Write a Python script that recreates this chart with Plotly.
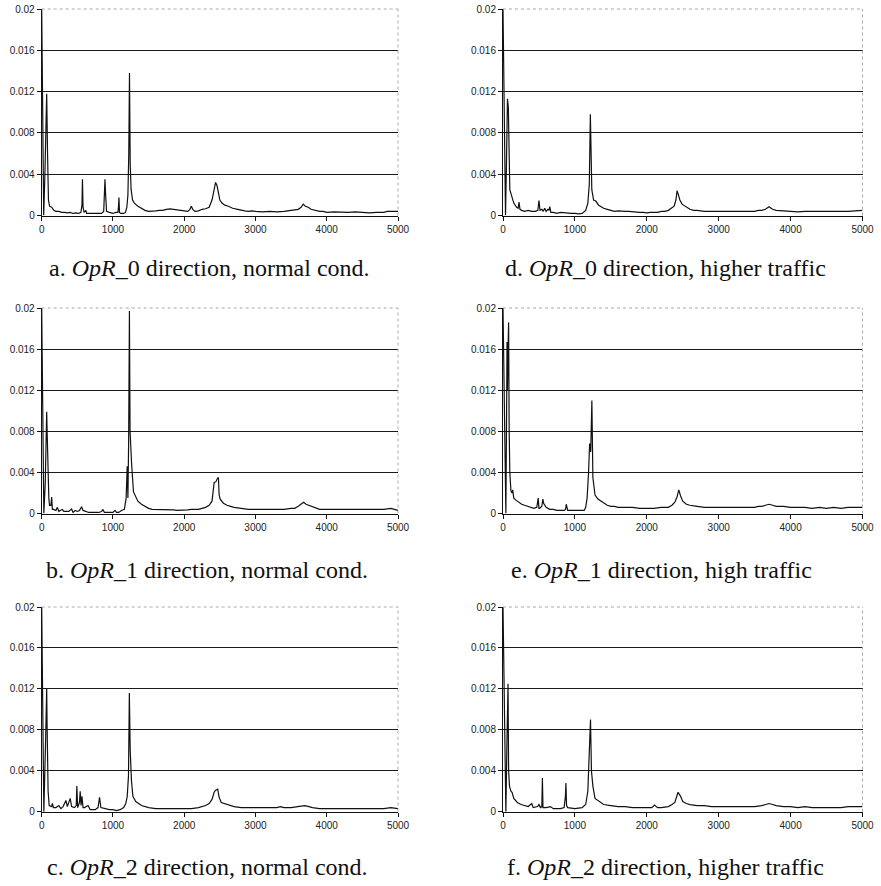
import plotly.graph_objects as go

# ---------------- data ----------------
a_x = [0, 28, 45, 58, 70, 82, 95, 110, 140, 170,
       200, 240, 280, 320, 360, 400, 440, 480, 520, 550,
       565, 572, 580, 595, 620, 630, 650, 700, 750, 800,
       840, 870, 880, 888, 897, 910, 950, 1000, 1040, 1070,
       1078, 1084, 1092, 1110, 1150, 1175, 1195, 1210, 1222, 1232,
       1242, 1255, 1275, 1300, 1350, 1400, 1450, 1500, 1550, 1600,
       1650, 1700, 1750, 1800, 1850, 1900, 1950, 2000, 2050, 2080,
       2100, 2120, 2150, 2200, 2250, 2300, 2350, 2390, 2420, 2440,
       2460, 2480, 2500, 2530, 2570, 2620, 2680, 2750, 2800, 2850,
       2900, 2950, 3000, 3100, 3200, 3300, 3400, 3450, 3500, 3550,
       3600, 3640, 3670, 3700, 3740, 3780, 3830, 3900, 3950, 4000,
       4100, 4200, 4300, 4400, 4500, 4600, 4700, 4800, 4850, 4900,
       4950, 5000]
a_y = [0.0200, 0.0, 0.0040, 0.0095, 0.0118, 0.0060, 0.0015, 0.0009, 0.0008, 0.0005,
       0.0004, 0.0004, 0.0003, 0.0003, 0.00025, 0.0003, 0.0002, 0.00025, 0.0002, 0.0003,
       0.0010, 0.0035, 0.0008, 0.0003, 0.0005, 0.0002, 0.0002, 0.00015, 0.0002, 0.00015,
       0.0002, 0.0004, 0.0025, 0.0035, 0.0020, 0.0004, 0.0003, 0.0002, 0.0003, 0.0003,
       0.0009, 0.00175, 0.0003, 0.0002, 0.0002, 0.0003, 0.0008, 0.0020, 0.0060, 0.0138,
       0.0050, 0.0025, 0.0015, 0.0012, 0.0009, 0.0007, 0.0005, 0.0004, 0.0004, 0.00045,
       0.0005, 0.0005, 0.0006, 0.00065, 0.0006, 0.00055, 0.0005, 0.0005, 0.0004, 0.0006,
       0.0009, 0.0006, 0.0004, 0.00045, 0.0006, 0.00065, 0.0008, 0.0015, 0.0026, 0.0032,
       0.0029, 0.0020, 0.0015, 0.0012, 0.0010, 0.0009, 0.0007, 0.0006, 0.0005, 0.00045,
       0.0004, 0.00045, 0.0004, 0.00035, 0.0004, 0.00035, 0.0004, 0.00045, 0.0005, 0.0005,
       0.0006, 0.0008, 0.0011, 0.0009, 0.0008, 0.0006, 0.0005, 0.0004, 0.0004, 0.0003,
       0.00035, 0.0003, 0.0003, 0.00035, 0.0003, 0.00025, 0.0003, 0.0003, 0.0004, 0.0004,
       0.00045, 0.0004]

d_x = [0, 35, 48, 62, 74, 84, 95, 116, 150, 190,
       210, 223, 236, 260, 300, 350, 400, 450, 485, 500,
       515, 540, 560, 580, 600, 625, 640, 650, 665, 700,
       750, 800, 850, 900, 950, 1000, 1050, 1100, 1150, 1180,
       1200, 1215, 1235, 1260, 1290, 1330, 1400, 1450, 1500, 1550,
       1600, 1650, 1700, 1750, 1800, 1850, 1900, 1950, 2000, 2050,
       2100, 2150, 2200, 2250, 2300, 2350, 2380, 2405, 2421, 2440,
       2460, 2490, 2550, 2600, 2650, 2700, 2800, 2900, 3000, 3100,
       3200, 3300, 3400, 3500, 3550, 3600, 3650, 3700, 3750, 3800,
       3900, 4000, 4100, 4200, 4300, 4400, 4500, 4600, 4700, 4800,
       4900, 5000]
d_y = [0.0200, 0.0, 0.0050, 0.0113, 0.0105, 0.0040, 0.0025, 0.0020, 0.0012, 0.0008,
       0.0007, 0.0013, 0.0006, 0.0005, 0.0004, 0.0005, 0.0004, 0.0004, 0.0005, 0.00145,
       0.0005, 0.0006, 0.0004, 0.0007, 0.0004, 0.0006, 0.0005, 0.00085, 0.0003, 0.0003,
       0.0002, 0.0003, 0.00025, 0.00025, 0.0002, 0.0002, 0.00015, 0.0002, 0.0005, 0.0012,
       0.0030, 0.0098, 0.0025, 0.0015, 0.0014, 0.0010, 0.0007, 0.0006, 0.0005, 0.0004,
       0.00045, 0.0004, 0.0004, 0.0004, 0.00035, 0.0003, 0.0003, 0.0003, 0.00025, 0.0003,
       0.0003, 0.0003, 0.0004, 0.0004, 0.0005, 0.0007, 0.0009, 0.0015, 0.0024, 0.0020,
       0.0015, 0.0011, 0.0008, 0.0006, 0.0005, 0.0005, 0.0004, 0.0004, 0.00045, 0.0004,
       0.0004, 0.0004, 0.00045, 0.0004, 0.0005, 0.0005, 0.0006, 0.00084, 0.0006, 0.0005,
       0.00045, 0.0004, 0.00035, 0.0004, 0.0004, 0.00035, 0.0004, 0.00035, 0.0004, 0.0004,
       0.00045, 0.0005]

b_x = [0, 30, 50, 62, 70, 78, 85, 100, 110, 130,
       140, 150, 165, 200, 220, 240, 260, 290, 310, 340,
       380, 420, 440, 470, 500, 530, 560, 580, 620, 660,
       700, 750, 800, 840, 860, 880, 920, 960, 1000, 1030,
       1050, 1080, 1120, 1160, 1185, 1200, 1210, 1220, 1231, 1240,
       1250, 1262, 1288, 1310, 1350, 1400, 1450, 1500, 1550, 1600,
       1650, 1700, 1750, 1800, 1850, 1900, 1950, 2000, 2050, 2100,
       2150, 2200, 2250, 2300, 2350, 2390, 2420, 2445, 2465, 2480,
       2490, 2505, 2550, 2600, 2650, 2700, 2800, 2900, 3000, 3100,
       3200, 3300, 3400, 3500, 3550, 3600, 3640, 3675, 3710, 3750,
       3800, 3850, 3900, 4000, 4100, 4200, 4300, 4400, 4500, 4600,
       4700, 4800, 4850, 4900, 4950, 5000]
b_y = [0.0200, 0.0, 0.0030, 0.0080, 0.0099, 0.0075, 0.0052, 0.0015, 0.0008, 0.0008,
       0.0016, 0.0004, 0.0004, 0.0003, 0.0006, 0.0002, 0.0003, 0.0004, 0.0002, 0.0002,
       0.0002, 0.00043, 0.0001, 0.0003, 0.0002, 0.0003, 0.00065, 0.0003, 0.0002, 0.0001,
       0.0001, 0.0001, 0.0001, 0.0002, 0.0004, 0.0001, 0.0001, 0.0001, 0.0001, 0.0003,
       0.0001, 0.0001, 0.0003, 0.0004, 0.0015, 0.0046, 0.0015, 0.0070, 0.0197, 0.0080,
       0.0055, 0.0048, 0.0021, 0.0018, 0.0012, 0.0009, 0.0007, 0.0005, 0.0004, 0.0004,
       0.00035, 0.0004, 0.0004, 0.0004, 0.00035, 0.0003, 0.0003, 0.0003, 0.00035, 0.0004,
       0.0004, 0.0004, 0.0005, 0.0006, 0.0008, 0.0012, 0.0030, 0.0031, 0.0034, 0.0035,
       0.0018, 0.0014, 0.0010, 0.0008, 0.0007, 0.0006, 0.0005, 0.0004, 0.0004, 0.0004,
       0.0004, 0.00035, 0.0004, 0.0005, 0.0005, 0.0007, 0.0009, 0.0011, 0.0009, 0.0008,
       0.0006, 0.0005, 0.0004, 0.0004, 0.0004, 0.00035, 0.0004, 0.0004, 0.0004, 0.00035,
       0.0004, 0.0004, 0.00045, 0.0005, 0.0004, 0.0003]

e_x = [0, 40, 50, 56, 62, 70, 78, 86, 95, 110,
       125, 135, 150, 180, 220, 260, 300, 350, 400, 430,
       470, 490, 500, 510, 540, 555, 565, 580, 600, 650,
       700, 750, 800, 850, 870, 880, 900, 950, 1000, 1050,
       1100, 1130, 1150, 1170, 1190, 1205, 1220, 1236, 1250, 1265,
       1280, 1320, 1400, 1450, 1500, 1550, 1600, 1700, 1800, 1900,
       2000, 2100, 2200, 2300, 2350, 2390, 2420, 2445, 2470, 2500,
       2550, 2600, 2700, 2800, 2900, 3000, 3100, 3200, 3300, 3400,
       3500, 3550, 3600, 3650, 3700, 3750, 3800, 3900, 4000, 4100,
       4200, 4300, 4400, 4500, 4600, 4700, 4800, 4900, 5000]
e_y = [0.0200, 0.0, 0.0100, 0.0167, 0.0120, 0.0160, 0.0186, 0.0080, 0.0040, 0.0022,
       0.0020, 0.0023, 0.0015, 0.0013, 0.0011, 0.0009, 0.0008, 0.0007, 0.0006, 0.0005,
       0.0006, 0.0015, 0.0005, 0.0005, 0.0007, 0.0014, 0.0010, 0.0008, 0.0006, 0.0004,
       0.0004, 0.0003, 0.0003, 0.0003, 0.0004, 0.0009, 0.0003, 0.0003, 0.0003, 0.00035,
       0.0003, 0.0003, 0.0006, 0.0015, 0.0040, 0.0068, 0.0060, 0.0110, 0.0035, 0.0022,
       0.0018, 0.0014, 0.0010, 0.0008, 0.0007, 0.0007, 0.0006, 0.0006, 0.0006, 0.0005,
       0.0005, 0.0005, 0.0006, 0.0006, 0.0008, 0.0011, 0.0016, 0.0023, 0.0017, 0.0012,
       0.0009, 0.0008, 0.0007, 0.0006, 0.0006, 0.0006, 0.0006, 0.0006, 0.0006, 0.0006,
       0.0006, 0.0007, 0.0007, 0.0008, 0.0009, 0.0008, 0.0007, 0.0007, 0.0006, 0.0006,
       0.0006, 0.0005, 0.0006, 0.0005, 0.0006, 0.0005, 0.0006, 0.0006, 0.0006]

c_x = [0, 30, 55, 65, 70, 75, 80, 90, 105, 140,
       150, 165, 200, 240, 270, 300, 320, 340, 360, 400,
       420, 460, 485, 493, 505, 530, 540, 552, 565, 580,
       600, 650, 680, 750, 790, 812, 830, 880, 950, 1000,
       1050, 1100, 1150, 1180, 1200, 1218, 1230, 1242, 1260, 1280,
       1320, 1400, 1450, 1500, 1600, 1700, 1800, 1900, 2000, 2100,
       2200, 2300, 2350, 2390, 2420, 2441, 2470, 2490, 2520, 2600,
       2700, 2800, 2900, 3000, 3100, 3200, 3300, 3350, 3400, 3500,
       3600, 3650, 3690, 3750, 3800, 3900, 4000, 4100, 4200, 4300,
       4400, 4500, 4600, 4700, 4800, 4900, 5000]
c_y = [0.0200, 0.0, 0.0070, 0.0118, 0.0120, 0.0088, 0.0060, 0.0020, 0.0006, 0.0005,
       0.0008, 0.0004, 0.0004, 0.0006, 0.0003, 0.0005, 0.0008, 0.0011, 0.0005, 0.0013,
       0.0005, 0.0004, 0.0006, 0.0025, 0.0004, 0.0009, 0.0020, 0.0006, 0.0015, 0.0004,
       0.0004, 0.0006, 0.0002, 0.0002, 0.0004, 0.0014, 0.0004, 0.0003, 0.0002, 0.0002,
       0.0001, 0.0002, 0.0004, 0.0008, 0.0015, 0.0035, 0.0116, 0.0060, 0.0030, 0.0015,
       0.0010, 0.0006, 0.0005, 0.0004, 0.0003, 0.0003, 0.0003, 0.0003, 0.0003, 0.0003,
       0.0004, 0.0006, 0.0008, 0.0012, 0.0019, 0.0021, 0.0022, 0.0014, 0.0009, 0.0007,
       0.0005, 0.0004, 0.0004, 0.0004, 0.0004, 0.0004, 0.0004, 0.0005, 0.0004, 0.0004,
       0.0005, 0.0006, 0.0006, 0.0005, 0.0004, 0.0003, 0.0003, 0.0003, 0.0003, 0.0003,
       0.0003, 0.0003, 0.0003, 0.0003, 0.0003, 0.0004, 0.0003]

f_x = [0, 40, 55, 62, 70, 78, 90, 110, 126, 150,
       200, 250, 300, 350, 400, 420, 480, 500, 520, 540,
       548, 556, 600, 660, 700, 800, 850, 868, 875, 884,
       900, 1000, 1100, 1150, 1180, 1200, 1217, 1230, 1250, 1280,
       1300, 1350, 1400, 1500, 1600, 1700, 1800, 1900, 2000, 2070,
       2107, 2150, 2200, 2300, 2350, 2390, 2435, 2470, 2500, 2550,
       2600, 2700, 2800, 2900, 3000, 3100, 3200, 3300, 3400, 3500,
       3600, 3650, 3700, 3750, 3800, 3900, 4000, 4100, 4200, 4300,
       4400, 4500, 4600, 4700, 4800, 4900, 5000]
f_y = [0.0200, 0.0, 0.0068, 0.0096, 0.0125, 0.0040, 0.0025, 0.0020, 0.0019, 0.0013,
       0.0009, 0.0007, 0.0006, 0.0005, 0.0008, 0.0004, 0.0005, 0.0007, 0.0004, 0.0005,
       0.0033, 0.0004, 0.0004, 0.0005, 0.0003, 0.0003, 0.0004, 0.0015, 0.0028, 0.0006,
       0.0004, 0.0003, 0.0004, 0.0007, 0.0020, 0.0068, 0.0090, 0.0040, 0.0025, 0.0013,
       0.0012, 0.0009, 0.0007, 0.0006, 0.0005, 0.0005, 0.0004, 0.0004, 0.0004, 0.0004,
       0.00065, 0.0004, 0.0004, 0.0005, 0.0007, 0.0009, 0.0019, 0.0015, 0.0010, 0.0008,
       0.0007, 0.0006, 0.0006, 0.0005, 0.0005, 0.0005, 0.0005, 0.0005, 0.0005, 0.0005,
       0.0006, 0.0007, 0.0008, 0.0007, 0.0006, 0.0005, 0.0005, 0.0004, 0.0005, 0.0004,
       0.0004, 0.0004, 0.0004, 0.0004, 0.0005, 0.0005, 0.0005]

x_ticks = [0, 1000, 2000, 3000, 4000, 5000]
x_tick_labels = ["0", "1000", "2000", "3000", "4000", "5000"]
y_ticks = [0, 0.004, 0.008, 0.012, 0.016, 0.02]
y_tick_labels = ["0", "0.004", "0.008", "0.012", "0.016", "0.02"]
grid_vals = [0.004, 0.008, 0.012, 0.016]

captions = [
    "a. <i>OpR</i>_0 direction, normal cond.",
    "b. <i>OpR</i>_1 direction, normal cond.",
    "c. <i>OpR</i>_2 direction, normal cond.",
    "d. <i>OpR</i>_0 direction, higher traffic",
    "e. <i>OpR</i>_1 direction, high traffic",
    "f. <i>OpR</i>_2 direction, higher traffic",
]
series = [(a_x, a_y), (b_x, b_y), (c_x, c_y), (d_x, d_y), (e_x, e_y), (f_x, f_y)]
for sx, sy in series:
    assert len(sx) == len(sy), (len(sx), len(sy))

# ---------------- layout geometry (pixels) ----------------
W, H = 881, 886
col_px = [(41.7, 398.0), (503.0, 862.5)]
row_px = [(9.0, 215.5), (308.0, 513.5), (607.0, 811.7)]
cap_cx = [209, 207, 207, 665, 661, 665]
cap_cy = [268, 570, 867]

fig = go.Figure()
layout = dict(
    width=W, height=H, autosize=False,
    margin=dict(l=0, r=0, t=0, b=0, pad=0),
    paper_bgcolor="white", plot_bgcolor="white",
    showlegend=False, shapes=[], annotations=[],
    template="none",
)

tick_font = dict(family="Liberation Sans, Arial, sans-serif", size=10, color="#222")

for i, (sx, sy) in enumerate(series):
    col = i // 3
    row = i % 3
    n = i + 1
    xa = "x" if n == 1 else f"x{n}"
    ya = "y" if n == 1 else f"y{n}"
    fig.add_trace(go.Scatter(
        x=sx, y=sy, mode="lines",
        line=dict(color="#111", width=1.2),
        xaxis=xa, yaxis=ya, hoverinfo="skip",
    ))
    x0, x1 = col_px[col]
    t, b = row_px[row]
    layout[f"xaxis{'' if n == 1 else n}"] = dict(
        domain=[x0 / W, x1 / W], anchor=ya, range=[0, 5000],
        tickmode="array", tickvals=x_ticks, ticktext=x_tick_labels,
        ticks="outside", ticklen=4, tickcolor="#111", tickwidth=1,
        showline=True, linecolor="#111", linewidth=1, automargin=False,
        showgrid=False, zeroline=False, tickfont=tick_font,
        fixedrange=True,
    )
    layout[f"yaxis{'' if n == 1 else n}"] = dict(
        domain=[1 - b / H, 1 - t / H], anchor=xa, range=[0, 0.02],
        tickmode="array", tickvals=y_ticks, ticktext=y_tick_labels,
        ticks="outside", ticklen=4, tickcolor="#111", tickwidth=1,
        showline=True, linecolor="#111", linewidth=1, automargin=False,
        showgrid=False, zeroline=False, tickfont=tick_font,
        minor=dict(tickmode="array", tickvals=grid_vals, showgrid=True,
                   gridcolor="#1a1a1a", gridwidth=1, ticks=""),
        fixedrange=True,
    )
    # dotted plot-area border at top and right
    layout["shapes"].append(dict(
        type="line", xref=f"{xa} domain", yref=f"{ya} domain",
        x0=0, x1=1, y0=1, y1=1, line=dict(color="#aaa", width=1, dash="dot"),
    ))
    layout["shapes"].append(dict(
        type="line", xref=f"{xa} domain", yref=f"{ya} domain",
        x0=1, x1=1, y0=0, y1=1, line=dict(color="#aaa", width=1, dash="dot"),
    ))
    layout["annotations"].append(dict(
        text=captions[i], xref="paper", yref="paper",
        x=cap_cx[i] / W, y=1 - cap_cy[row] / H,
        xanchor="center", yanchor="middle", showarrow=False,
        font=dict(family="Liberation Serif, Times New Roman, serif", size=24, color="#111"),
    ))

fig.update_layout(**layout)
fig.write_html(
    "out.html",
    config={"displayModeBar": False},
    post_script="document.body.style.margin='0';document.body.style.overflow='hidden';",
)
